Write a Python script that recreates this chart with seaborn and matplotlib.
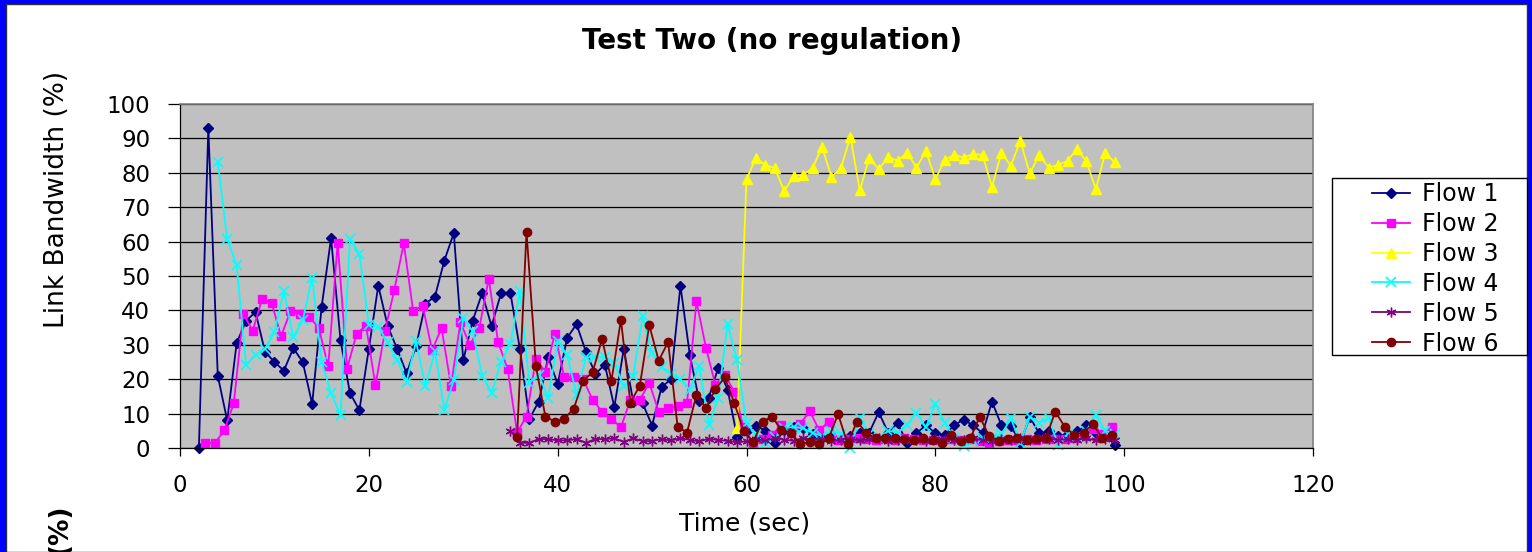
import numpy as np
import pandas as pd
import matplotlib
matplotlib.use("Agg")
import matplotlib.pyplot as plt
from matplotlib.patches import Rectangle
from matplotlib.lines import Line2D
import seaborn as sns

plt.rcParams['font.family'] = ['DejaVu Sans']

# ---------------- data ----------------
flow_names = ["Flow 1", "Flow 2", "Flow 3", "Flow 4", "Flow 5", "Flow 6"]

flow1_start = 2.0
flow1 = [0, 93, 21, 8, 30.5, 37, 39.5, 28, 25, 22.5, 29, 25, 12.8, 41, 61, 31.3,
         16, 11, 28.8, 47.2, 35.4, 28.8, 21.7, 29.6, 42, 44, 54.5, 62.5, 25.5, 37,
         45, 35.4, 45, 45, 28.8, 8.5, 13.5, 26.4, 18.6, 32, 36, 27.9, 21.6, 24.2,
         11.9, 28.8, 13.5, 13, 6.5, 17.7, 20, 47.2, 27, 13.6, 14.6, 23.3, 17, 3.3,
         4.8, 6.5, 5, 1.5, 5.2, 6, 5.7, 4, 3, 3.5, 2.5, 3.5, 4.5, 4.5, 10.4, 4.5,
         7.3, 1.4, 4.3, 6.6, 4.3, 3.7, 6.7, 8.2, 6.6, 4.3, 13.5, 6.6, 6.5, 1.4, 9,
         4.3, 4.8, 3.5, 4, 4.8, 6.6, 4.4, 3.7, 0.9]

flow2_start = 2.7
flow2 = [1.4, 1.4, 5.2, 13, 39, 34.1, 43.4, 42.2, 32.5, 39.7, 39, 38.1, 34.9, 23.7,
         59.7, 23.1, 33.2, 35.6, 18.2, 33.9, 46, 59.5, 39.7, 41.4, 28.4, 34.9, 18.1,
         36.5, 30, 34.9, 49.2, 30.7, 23, 4.6, 9.1, 26, 22, 33.2, 20.5, 20.5, 20, 14,
         10.6, 8.5, 6, 14, 14, 18.9, 10.6, 11.6, 12.2, 13, 42.7, 29.2, 18.4, 21.3,
         16.4, 6, 1.4, 2.5, 3.7, 6.8, 4.3, 7.1, 10.7, 5.2, 7.6, 2.3, 2.5, 2.8, 2.5,
         2.2, 2.5, 2.3, 2.8, 2.5, 2.2, 2.3, 2, 2.5, 2.2, 2.5, 2, 1.4, 2, 2.3, 2.2,
         2.5, 2.3, 2.5, 2.7, 2.5, 3, 3.5, 5.4, 4, 6.2]

flow3_start = 59.0
flow3 = [5.7, 78.1, 84.3, 82.3, 81.3, 74.7, 79.1, 79.4, 81.3, 87.6, 78.8, 81.3,
         90.5, 74.9, 84.4, 81, 84.6, 83.5, 85.9, 81.5, 86.4, 78.1, 83.7, 85.2, 84.4,
         85.5, 85.2, 75.9, 85.9, 82, 89.3, 79.8, 85.2, 81.5, 82.3, 83.5, 86.9, 83.3,
         75.2, 85.9, 83]

flow4_start = 4.0
flow4 = [83.2, 60.8, 53.1, 24.2, 27.1, 28.8, 33.7, 45.6, 32.2, 37.1, 49.5, 25, 15.9,
         9.6, 60.8, 56.3, 35.9, 35.2, 30.7, 25.7, 19.3, 31, 17.9, 28.1, 11.1, 19.8,
         37.8, 33.9, 21, 16.1, 25, 30.3, 45.6, 19, 21.3, 14.5, 31, 27.1, 15.5, 26.4,
         26.4, 26.4, 24.7, 17.9, 21, 38.3, 27.5, 23.5, 21.5, 20, 16.9, 23.9, 6.7,
         14.5, 36, 25.5, 7.2, 3.8, 1.5, 3.3, 5.7, 6.2, 5.7, 4.4, 3.5, 5, 4, 0, 8.6,
         4, 3, 5, 4.5, 6.7, 10.3, 6, 12.8, 7.2, 3, 0.5, 2, 3, 3, 4, 8.6, 1.5, 9.1,
         7.4, 8.6, 0.9, 4, 3.5, 5, 9.6, 5, 4]

flow5_start = 35.0
flow5 = [5, 1.5, 1.5, 2.6, 2.6, 2.2, 2.2, 2.6, 1.5, 2.6, 2.6, 2.8, 1.8, 2.8, 2, 2,
         2.6, 2.2, 2.8, 2.4, 1.9, 2.7, 2.3, 2.1, 1.6, 2.0,
         2.5, 2.2, 2.8, 2.4, 2.1, 2.9, 2.3, 2.6, 2.0, 2.4,
         2.7, 2.2, 2.5, 2.8, 2.1, 2.3, 2.6, 2.4, 2.0, 2.5,
         2.7, 2.2, 2.4, 2.8, 2.3, 2.1, 2.6, 2.4, 2.9, 2.2,
         2.5, 2.7, 2.3, 2.6, 2.4, 2.8, 2.2, 2.5, 2.3]

flow6_start = 35.7
flow6 = [3.1, 62.9, 23.7, 9.1, 7.7, 8.5, 11.4, 19.6, 22, 31.7, 19.6, 37.3, 13.2,
         18.1, 35.7, 25.4, 30.8, 6.2, 4.5, 15.5, 11.6, 17.1, 20.5, 13.1, 5, 1.8,
         7.7, 9.1, 5.2, 4.5, 1.1, 1.8, 1.2, 2.8, 9.9, 1.2, 7.7, 4.3, 2.8, 2.8, 3,
         2.5, 2.2, 2.8, 2.3, 1.4, 3.9, 2, 2.8, 9.1, 3.5, 2.1, 2.5, 2.8, 2.4, 2.6,
         2.8, 10.6, 6.2, 3.8, 4.5, 6.9, 2.8, 3.8]

x_ticks = [0, 20, 40, 60, 80, 100, 120]
y_ticks = [0, 10, 20, 30, 40, 50, 60, 70, 80, 90, 100]

# ---------------- styling ----------------
colors = {"Flow 1": "#000080", "Flow 2": "#FF00FF", "Flow 3": "#FFFF00",
          "Flow 4": "#00FFFF", "Flow 5": "#800080", "Flow 6": "#800000"}
markers = {"Flow 1": "D", "Flow 2": "s", "Flow 3": "^",
           "Flow 4": "x", "Flow 5": (6, 2, 0), "Flow 6": "o"}
msizes = {"Flow 1": 5.0, "Flow 2": 5.5, "Flow 3": 7.0,
          "Flow 4": 6.5, "Flow 5": 7.0, "Flow 6": 6.0}
mew = {"Flow 1": 1.0, "Flow 2": 1.0, "Flow 3": 1.0,
       "Flow 4": 1.2, "Flow 5": 1.0, "Flow 6": 1.0}

frames = []
for name, start, vals in [("Flow 1", flow1_start, flow1), ("Flow 2", flow2_start, flow2),
                          ("Flow 3", flow3_start, flow3), ("Flow 4", flow4_start, flow4),
                          ("Flow 5", flow5_start, flow5), ("Flow 6", flow6_start, flow6)]:
    t = start + np.arange(len(vals))
    frames.append(pd.DataFrame({"Time": t, "Bandwidth": vals, "Flow": name}))
df = pd.concat(frames, ignore_index=True)

W, H = 1532, 552
fig = plt.figure(figsize=(W / 100, H / 100), dpi=100)
fig.patch.set_facecolor("#0000FF")
fig.add_artist(Rectangle((6 / W, 0), (W - 11) / W, (H - 4) / H, transform=fig.transFigure,
                         facecolor="white", edgecolor="#303030", lw=1, zorder=-10))

ax = fig.add_axes([180 / W, 104 / H, 1133 / W, 344 / H])
ax.set_facecolor("#C0C0C0")

for n in flow_names:
    sub = df[df["Flow"] == n]
    sns.lineplot(data=sub, x="Time", y="Bandwidth", color=colors[n],
                 marker=markers[n], markersize=msizes[n],
                 markeredgecolor=colors[n], markerfacecolor=colors[n],
                 markeredgewidth=mew[n], estimator=None, errorbar=None,
                 lw=1.3, ax=ax, legend=False, clip_on=False)

ax.set_xlim(0, 120)
ax.set_ylim(0, 100)
ax.set_xticks(x_ticks)
ax.set_yticks(y_ticks)
ax.yaxis.grid(True, color="black", lw=0.9)
ax.xaxis.grid(False)
ax.set_axisbelow(True)
ax.tick_params(axis="y", direction="out", length=8.5, width=0.9, pad=13, labelsize=16.5)
ax.tick_params(axis="x", direction="out", length=6, width=0.9, pad=13, labelsize=16.5)
for s in ["top", "right"]:
    ax.spines[s].set_color("#808080")
    ax.spines[s].set_linewidth(1.2)
for s in ["left", "bottom"]:
    ax.spines[s].set_color("#000000")
    ax.spines[s].set_linewidth(0.9)

ax.set_xlabel("Time (sec)", fontsize=18)
ax.xaxis.set_label_coords(0.4987, -0.185)
ax.set_ylabel("Link Bandwidth (%)", fontsize=19)
ax.yaxis.set_label_coords(-0.097, 0.723)

fig.text(772 / W, (H - 41) / H, "Test Two (no regulation)", ha="center", va="center",
         fontsize=20, fontweight="bold")
fig.text(60 / W, (H - 503) / H, "(%)", rotation=90, ha="center", va="top",
         fontsize=19, fontweight="bold")

# legend
fig.add_artist(Rectangle((1332 / W, (H - 355) / H), 195 / W, 177 / H,
                         transform=fig.transFigure, facecolor="white",
                         edgecolor="black", lw=1, zorder=1))
handles = [Line2D([], [], color=colors[n], marker=markers[n], markersize=msizes[n],
                  markeredgecolor=colors[n], markerfacecolor=colors[n],
                  markeredgewidth=mew[n], lw=1.3) for n in flow_names]
leg = fig.legend(handles, flow_names, loc="upper left",
                 bbox_to_anchor=(1372 / W, (H - 182) / H), frameon=False,
                 fontsize=17, handlelength=1.6, handletextpad=0.5,
                 labelspacing=0.25, borderpad=0, borderaxespad=0)
leg.set_zorder(5)

fig.savefig("out.png", dpi=100, facecolor=fig.get_facecolor())
